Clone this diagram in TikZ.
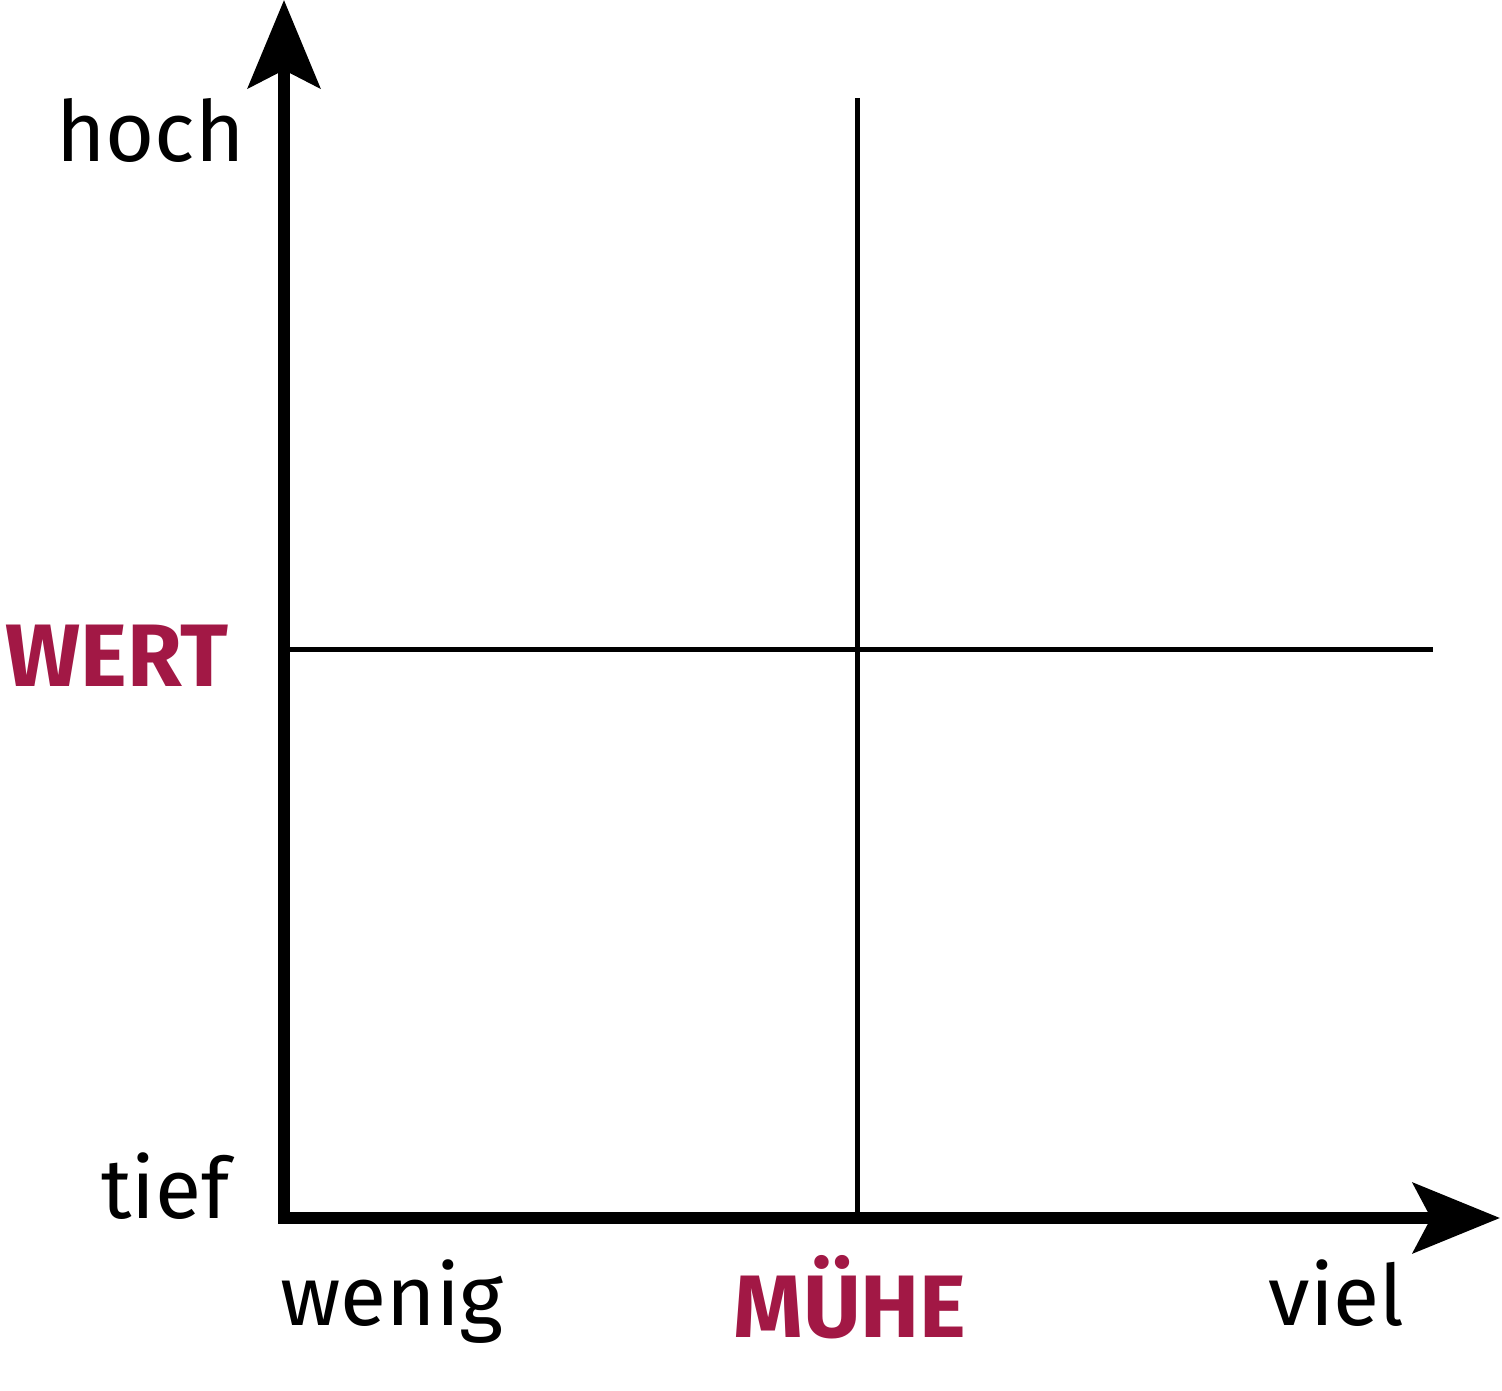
\documentclass[tikz,border=0pt]{standalone}
\usepackage{fontspec}
\setmainfont{Fira Sans}
\usepackage{xcolor}
\usepackage{tikz}
\usetikzlibrary{arrows.meta}
\definecolor{wein}{RGB}{162,24,69}

\begin{document}
\begin{tikzpicture}[
    x=0.02cm, y=-0.02cm,
    achse/.style={line width=0.23cm, line join=miter,
      {Stealth[length=17.6mm, width=14.4mm, inset=3.6mm]}-{Stealth[length=17.4mm, width=14mm, inset=3.6mm]}},
    linie/.style={line width=0.1cm},
    skala/.style={inner sep=0pt, font=\fontsize{48}{58}\selectfont},
    titel/.style={skala, text=wein, font=\fontsize{50.5}{60}\selectfont\bfseries}]
  \useasboundingbox (0,0) rectangle (1502,1391);
  \coordinate (ytop) at (284,0);
  \coordinate (null) at (284,1218);
  \coordinate (xend) at (1500,1218);
  \coordinate (vtop) at (857,98);
  \coordinate (vbot) at (857,1218);
  \coordinate (hlinks) at (288,650);
  \coordinate (hrechts) at (1433,650);
  \draw[linie] (vtop) -- (vbot);
  \draw[linie] (hlinks) -- (hrechts);
  \draw[achse] (ytop) -- (null) -- (xend);
  \node[skala, anchor=base east] (hoch) at (245,162) {hoch};
  \node[skala, anchor=base east] (tief) at (230,1218) {tief};
  \node[titel, anchor=base] (wert) at (117,687) {WERT};
  \node[skala, anchor=base west] (wenig) at (280,1325) {wenig};
  \node[titel, anchor=base] (muehe) at (850,1337) {MÜHE};
  \node[skala, anchor=base east] (viel) at (1405,1325) {viel};
\end{tikzpicture}
\end{document}
